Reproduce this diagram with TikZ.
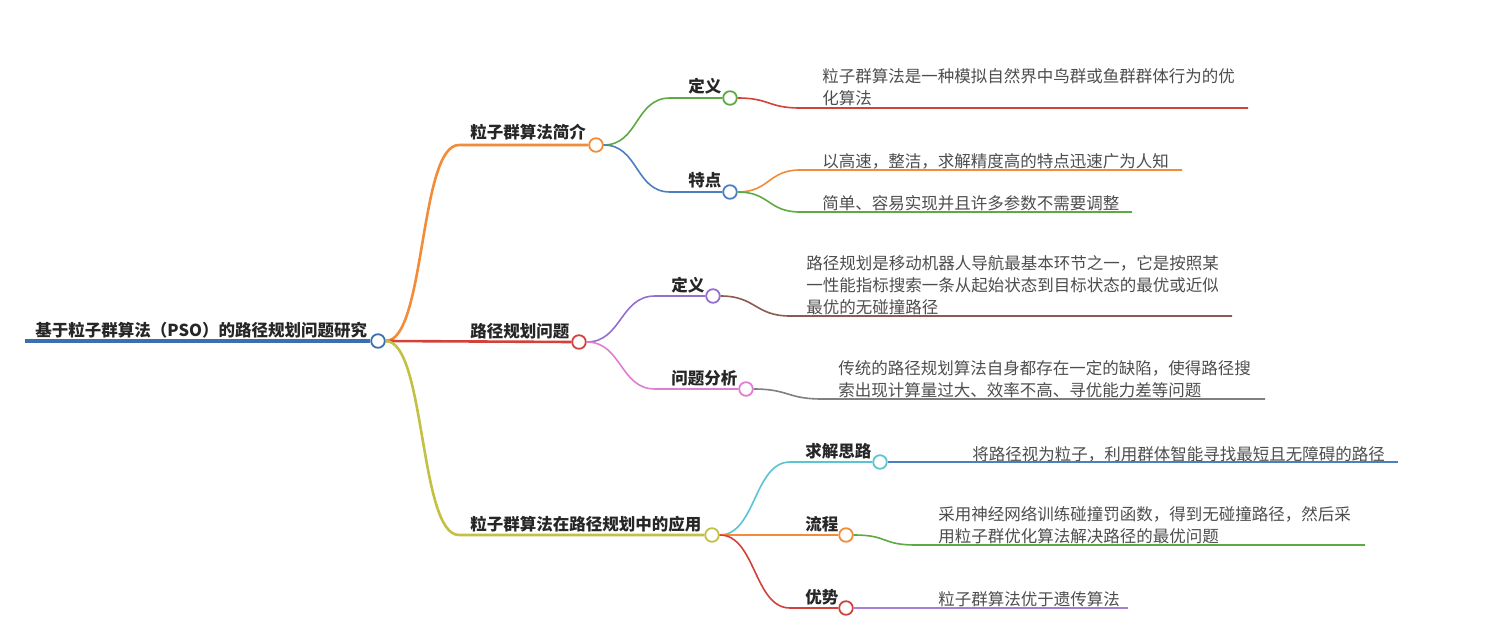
\documentclass[tikz,border=0pt]{standalone}
\usepackage{fontspec}
\setmainfont{Noto Sans CJK SC}
\usepackage{xcolor}
\usepackage{tikz}
\usetikzlibrary{positioning,calc}
\definecolor{rootblue}{HTML}{3A6FB0}
\definecolor{brorange}{HTML}{F28C38}
\definecolor{brred}{HTML}{D2413A}
\definecolor{bryellow}{HTML}{C3C043}
\definecolor{brgreen}{HTML}{5DAA44}
\definecolor{brblue}{HTML}{4A7FC1}
\definecolor{brpurple}{HTML}{9370CF}
\definecolor{brpink}{HTML}{DE7FCF}
\definecolor{brbrown}{HTML}{8B5A50}
\definecolor{brgray}{HTML}{808080}
\definecolor{brcyan}{HTML}{5BC3D3}
\definecolor{brlilac}{HTML}{A57ED6}
\definecolor{labelink}{HTML}{262626}
\definecolor{leafink}{HTML}{4D4D4D}

\begin{document}
\begin{tikzpicture}[
    x=0.5pt, y=-0.5pt,
    font=\fontsize{8.25}{11}\selectfont,
    knob/.style={circle,draw,fill=white,line width=0.9pt,minimum size=6.8pt,inner sep=0pt},
    title/.style={anchor=base west,inner sep=0pt,text=labelink,font=\fontsize{8.25}{11}\selectfont\bfseries},
    leaf/.style={anchor=west,inner sep=0pt,align=left,text=leafink},
    trunk/.style={line width=1.3pt},
    twig/.style={line width=0.8pt}
  ]
  \useasboundingbox (0,0) rectangle (1486,636);

  % root
  \node[title] (root) at (35,336) {基于粒子群算法（PSO）的路径规划问题研究};
  \node[knob,draw=rootblue] (r) at (378,341) {};
  \coordinate (r0) at (25,341);
  \draw[line width=2pt,rootblue] (r0) -- (r.west);

  % first level
  \node[title] (intro) at (470,139) {粒子群算法简介};
  \node[title] (plan)  at (470,337) {路径规划问题};
  \node[title] (app)   at (470,530) {粒子群算法在路径规划中的应用};
  \node[knob,draw=brorange] (c1) at (596,145) {};
  \node[knob,draw=brred]    (c2) at (579,342) {};
  \node[knob,draw=bryellow] (c3) at (712,535) {};
  \coordinate (k1) at (459,145);
  \coordinate (k3) at (459,535);
  \draw[trunk,brorange] (r.east) .. controls +(40,0) and +(-40,0) .. (k1) -- (c1.west);
  \draw[trunk,brred]    (r.east) -- (c2.west);
  \draw[trunk,bryellow] (r.east) .. controls +(40,0) and +(-40,0) .. (k3) -- (c3.west);

  % intro branch
  \node[title] (def1)  at (688,93)  {定义};
  \node[title] (feat)  at (688,187) {特点};
  \node[knob,draw=brgreen] (d11) at (730,98)  {};
  \node[knob,draw=brblue]  (d12) at (730,192) {};
  \coordinate (k11) at (670,98);
  \coordinate (k12) at (670,192);
  \draw[twig,brgreen] (c1.east) .. controls +(35,0) and +(-35,0) .. (k11) -- (d11.west);
  \draw[twig,brblue]  (c1.east) .. controls +(35,0) and +(-35,0) .. (k12) -- (d12.west);

  \node[leaf] (t111) at (822,87) {粒子群算法是一种模拟自然界中鸟群或鱼群群体行为的优\\化算法};
  \node[leaf] (t121) at (822,161) {以高速，整洁，求解精度高的特点迅速广为人知};
  \node[leaf] (t122) at (822,203) {简单、容易实现并且许多参数不需要调整};
  \coordinate (k111) at (800,108);  \coordinate (e111) at (1248,108);
  \coordinate (k121) at (800,170);  \coordinate (e121) at (1182,170);
  \coordinate (k122) at (800,212);  \coordinate (e122) at (1132,212);
  \draw[twig,brred]    (d11.east) .. controls +(32,0) and +(-32,0) .. (k111) -- (e111);
  \draw[twig,brorange] (d12.east) .. controls +(32,0) and +(-32,0) .. (k121) -- (e121);
  \draw[twig,brgreen]  (d12.east) .. controls +(32,0) and +(-32,0) .. (k122) -- (e122);

  % planning branch
  \node[title] (def2)  at (671,291) {定义};
  \node[title] (issue) at (671,384) {问题分析};
  \node[knob,draw=brpurple] (d21) at (713,296) {};
  \node[knob,draw=brpink]   (d22) at (746,389) {};
  \coordinate (k21) at (655,296);
  \coordinate (k22) at (655,389);
  \draw[twig,brpurple] (c2.east) .. controls +(35,0) and +(-35,0) .. (k21) -- (d21.west);
  \draw[twig,brpink]   (c2.east) .. controls +(35,0) and +(-35,0) .. (k22) -- (d22.west);

  \node[leaf] (t211) at (806,285) {路径规划是移动机器人导航最基本环节之一，它是按照某\\一性能指标搜索一条从起始状态到目标状态的最优或近似\\最优的无碰撞路径};
  \node[leaf] (t221) at (838,379) {传统的路径规划算法自身都存在一定的缺陷，使得路径搜\\索出现计算量过大、效率不高、寻优能力差等问题};
  \coordinate (k211) at (790,316);  \coordinate (e211) at (1232,316);
  \coordinate (k221) at (822,399);  \coordinate (e221) at (1265,399);
  \draw[twig,brbrown] (d21.east) .. controls +(35,0) and +(-35,0) .. (k211) -- (e211);
  \draw[twig,brgray]  (d22.east) .. controls +(35,0) and +(-35,0) .. (k221) -- (e221);

  % application branch
  \node[title] (idea) at (805,457) {求解思路};
  \node[title] (flow) at (805,530) {流程};
  \node[title] (gain) at (805,603) {优势};
  \node[knob,draw=brcyan]   (d31) at (880,462) {};
  \node[knob,draw=brorange] (d32) at (846,535) {};
  \node[knob,draw=brred]    (d33) at (846,608) {};
  \coordinate (k31) at (790,462);
  \coordinate (k33) at (790,608);
  \draw[twig,brcyan]   (c3.east) .. controls +(36,0) and +(-36,0) .. (k31) -- (d31.west);
  \draw[twig,brorange] (c3.east) -- (d32.west);
  \draw[twig,brred]    (c3.east) .. controls +(36,0) and +(-36,0) .. (k33) -- (d33.west);

  \node[leaf] (t311) at (972,454) {将路径视为粒子，利用群体智能寻找最短且无障碍的路径};
  \node[leaf] (t321) at (938,525) {采用神经网络训练碰撞罚函数，得到无碰撞路径，然后采\\用粒子群优化算法解决路径的最优问题};
  \node[leaf] (t331) at (938,599) {粒子群算法优于遗传算法};
  \coordinate (e311) at (1398,462);
  \coordinate (k321) at (916,545);  \coordinate (e321) at (1365,545);
  \coordinate (e331) at (1128,608);
  \draw[twig,brblue]   (d31.east) -- (e311);
  \draw[twig,brgreen]  (d32.east) .. controls +(35,0) and +(-35,0) .. (k321) -- (e321);
  \draw[twig,brlilac]  (d33.east) -- (e331);

\end{tikzpicture}
\end{document}
